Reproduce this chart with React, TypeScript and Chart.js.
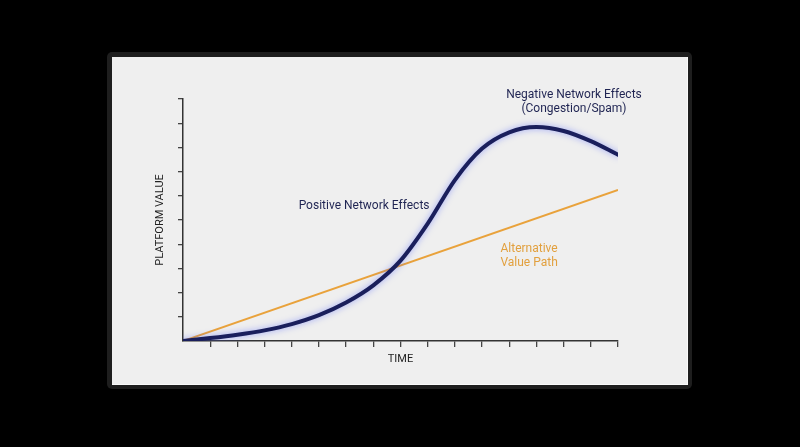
import React, { useEffect, useRef } from "react";
import { Chart, registerables } from "chart.js";

Chart.register(...registerables);

// ---- data ----
const timeSteps = [0, 1, 2, 3, 4, 5, 6, 7, 8, 9, 10, 11, 12, 13, 14, 15, 16];
const networkValue = [0, 0.12, 0.26, 0.44, 0.7, 1.07, 1.59, 2.3, 3.32, 4.85, 6.65, 7.95, 8.62, 8.84, 8.68, 8.26, 7.7];
const altTime = [0, 16];
const altValue = [0, 6.24];
const xTickMax = 16;
const yTickMax = 10;

const annotations = [
  { lines: ["Positive Network Effects"], x: 6.66, y: 5.58, color: "#1f2452" },
  { lines: ["Negative Network Effects", "(Congestion/Spam)"], x: 14.38, y: 9.88, color: "#1f2452" },
  { lines: ["Alternative", "Value Path"], x: 12.73, y: 3.51, color: "#e2a03e" },
];

const FONT = "Roboto, 'Noto Sans', sans-serif";

const backgroundPlugin = {
  id: "panelBg",
  beforeDraw(chart: any) {
    const { ctx, width, height } = chart;
    ctx.save();
    ctx.fillStyle = "#000";
    ctx.fillRect(0, 0, width, height);
    ctx.fillStyle = "#1e1e1e";
    ctx.beginPath();
    (ctx as any).roundRect ? ctx.roundRect(107, 52, 585, 337, 5) : ctx.rect(107, 52, 585, 337);
    ctx.fill();
    ctx.fillStyle = "#fafafa";
    ctx.fillRect(112, 57, 576, 328);
    ctx.fillStyle = "#efefef";
    ctx.fillRect(112, 57, 575, 327);
    ctx.restore();
  },
};

const glowPlugin = {
  id: "glow",
  beforeDatasetDraw(chart: any, args: any) {
    if (args.index === 0) {
      const ctx = chart.ctx;
      ctx.save();
      ctx.shadowColor = "rgba(70, 90, 255, 0.5)";
      ctx.shadowBlur = 6;
    }
  },
  afterDatasetDraw(chart: any, args: any) {
    if (args.index === 0) chart.ctx.restore();
  },
};

const labelPlugin = {
  id: "labels",
  afterDatasetsDraw(chart: any) {
    const { ctx, scales } = chart;
    ctx.save();
    ctx.font = `12px ${FONT}`;
    ctx.textAlign = "center";
    ctx.textBaseline = "middle";
    annotations.forEach((a) => {
      const px = scales.x.getPixelForValue(a.x);
      const py = scales.y.getPixelForValue(a.y);
      ctx.fillStyle = a.color;
      a.lines.forEach((t, i) => ctx.fillText(t, px, py + i * 14 - ((a.lines.length - 1) * 14) / 2));
    });
    ctx.restore();
  },
};

export default function App() {
  const ref = useRef<HTMLCanvasElement | null>(null);
  useEffect(() => {
    if (!ref.current) return;
    const tickColor = (c: any) => (c.tick && c.tick.value === 0 ? "rgba(0,0,0,0)" : "#444");
    const chart = new Chart(ref.current, {
      type: "line",
      data: {
        datasets: [
          {
            label: "Network value",
            data: timeSteps.map((t, i) => ({ x: t, y: networkValue[i] })),
            borderColor: "#1a1f5c",
            borderWidth: 4,
            pointRadius: 0,
            cubicInterpolationMode: "monotone",
            fill: false,
            borderCapStyle: "round",
          },
          {
            label: "Alternative value path",
            data: altTime.map((t, i) => ({ x: t, y: altValue[i] })),
            borderColor: "#e9a23b",
            borderWidth: 2,
            pointRadius: 0,
            fill: false,
          },
        ],
      },
      options: {
        animation: false,
        responsive: false,
        layout: { padding: { left: 153.4, right: 182, top: 99, bottom: 81.4 } },
        plugins: { legend: { display: false }, tooltip: { enabled: false } },
        scales: {
          x: {
            type: "linear",
            min: 0,
            max: xTickMax,
            ticks: { stepSize: 1, display: false },
            grid: { drawOnChartArea: false, drawTicks: true, tickLength: 6, color: tickColor, lineWidth: 1.3 },
            border: { display: true, color: "#333", width: 1.5 },
            title: { display: true, text: "TIME", color: "#222", font: { size: 11, family: FONT }, padding: 0 },
            afterFit: (s: any) => {
              s.height = 24.6;
            },
          },
          y: {
            min: 0,
            max: yTickMax,
            ticks: { stepSize: 1, display: false },
            grid: { drawOnChartArea: false, drawTicks: true, tickLength: 5, color: tickColor, lineWidth: 1.3 },
            border: { display: true, color: "#333", width: 1.5 },
            title: { display: true, text: "PLATFORM VALUE", color: "#222", font: { size: 11, family: FONT }, padding: 0 },
            afterFit: (s: any) => {
              s.width = 29.6;
            },
          },
        },
      },
      plugins: [backgroundPlugin, glowPlugin, labelPlugin],
    } as any);
    return () => chart.destroy();
  }, []);
  return (
    <div style={{ position: "fixed", left: 0, top: 0, width: 800, height: 447, background: "#000" }}>
      <canvas ref={ref} width={800} height={447} style={{ display: "block" }} />
    </div>
  );
}
